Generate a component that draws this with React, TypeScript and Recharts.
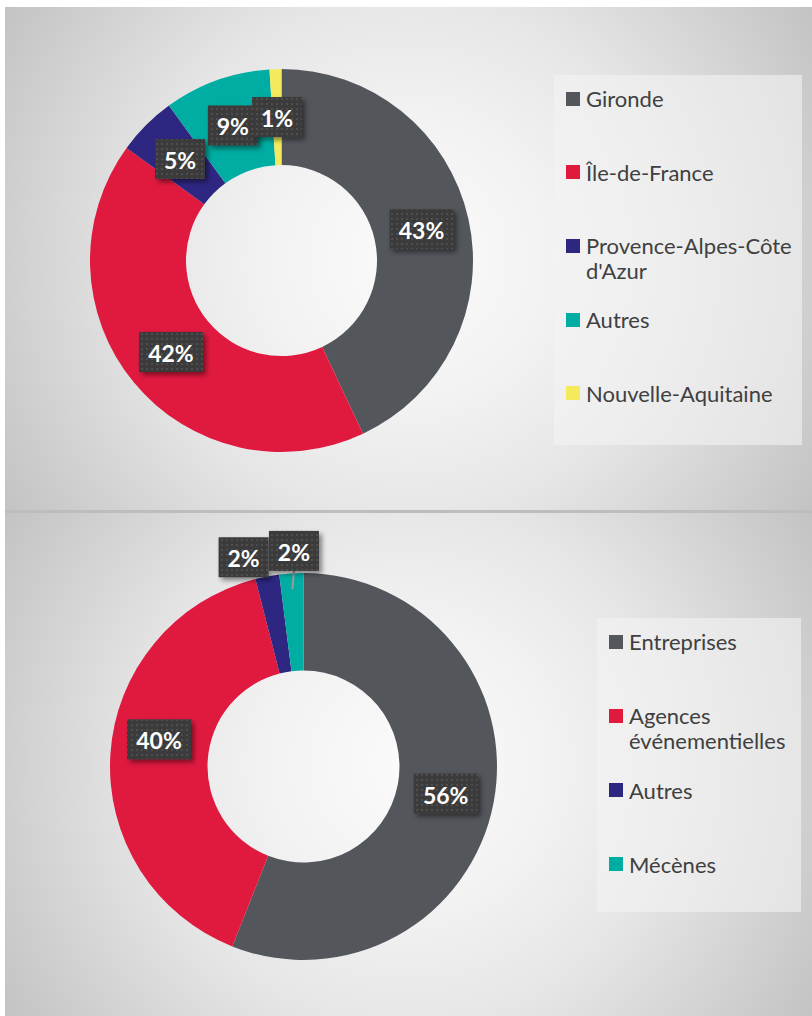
import React from 'react';
import { PieChart, Pie, Cell, Legend } from 'recharts';

const regionNames = ['Gironde', 'Île-de-France', "Provence-Alpes-Côte d'Azur", 'Autres', 'Nouvelle-Aquitaine'];
const regionValues = [43, 42, 5, 9, 1];
const regionColors = ['#53565b', '#e0193f', '#2e2782', '#00ada3', '#f4ea5b'];

const clientNames = ['Entreprises', 'Agences événementielles', 'Autres', 'Mécènes'];
const clientValues = [56, 40, 2, 2];
const clientColors = ['#53565b', '#e0193f', '#2e2782', '#00ada3'];

// label placement tweaks (style, not data)
const regionLabelShift: any[] = [{}, {}, {}, {}, {}];
const clientLabelShift: any[] = [{}, { dy: -18 }, { r: 213, dx: -20 }, { r: 216, dx: 4, line: true }];

const regionData = regionNames.map((name, i) => ({ name, value: regionValues[i] }));
const clientData = clientNames.map((name, i) => ({ name, value: clientValues[i] }));

const RAD = Math.PI / 180;
const FONT = 'Lato, "Open Sans", sans-serif';

function makeLabel(values: number[], shifts: any[]) {
  return (props: any) => {
    const { cx, cy, midAngle, innerRadius, outerRadius, index } = props;
    const s = shifts[index] || {};
    const r = s.r ?? (innerRadius + outerRadius) / 2;
    const x = cx + r * Math.cos(-midAngle * RAD) + (s.dx || 0);
    const y = cy + r * Math.sin(-midAngle * RAD) + (s.dy || 0);
    const text = `${values[index]}%`;
    const w = 22 + 14 * text.length;
    const h = 40;
    const lr = outerRadius - 16;
    const lx = cx + lr * Math.cos(-midAngle * RAD);
    const ly = cy + lr * Math.sin(-midAngle * RAD);
    return (
      <g key={`lbl-${index}`}>
        {s.line && <line x1={lx} y1={ly} x2={x} y2={y + h / 2} stroke="#9a9a9a" strokeWidth={2} />}
        <rect x={x - w / 2} y={y - h / 2} width={w} height={h} fill="#3a3a3a" filter="url(#lblShadow)" />
        <rect x={x - w / 2} y={y - h / 2} width={w} height={h} fill="url(#lblDots)" />
        <text
          x={x}
          y={y + 1}
          textAnchor="middle"
          dominantBaseline="central"
          fill="#ffffff"
          fontSize={23}
          fontWeight={700}
          fontFamily={FONT}
        >
          {text}
        </text>
      </g>
    );
  };
}

function LegendBox({ names, colors, width, height, spacing, textWidth }: any) {
  return (
    <div
      style={{
        position: 'relative',
        width,
        height,
        background: 'rgba(244,244,244,0.6)',
        fontFamily: FONT,
        fontSize: 22,
        color: '#404040',
        lineHeight: '25px',
      }}
    >
      {names.map((n: string, i: number) => (
        <div key={n} style={{ position: 'absolute', left: 12, top: 23.5 - 12.5 + i * spacing, display: 'flex' }}>
          <div style={{ width: 14, height: 14, background: colors[i], marginTop: 5.5, marginRight: 6, flex: 'none' }} />
          <div style={{ width: textWidth, whiteSpace: 'normal' }}>{n}</div>
        </div>
      ))}
    </div>
  );
}

const panelBg =
  'radial-gradient(circle farthest-corner at 50% 50%, #fbfbfb 0%, #f2f2f2 30%, #e6e6e6 55%, #c3c3c3 100%)';

export default function App() {
  return (
    <div style={{ position: 'absolute', left: 0, top: 0, width: 812, height: 1016, background: '#ffffff' }}>
      <svg width={0} height={0} style={{ position: 'absolute' }}>
        <defs>
          <pattern id="lblDots" width={5} height={5} patternUnits="userSpaceOnUse">
            <rect x={1} y={1} width={2} height={2} fill="#4e4e4e" />
          </pattern>
          <filter id="lblShadow" x="-30%" y="-30%" width="170%" height="180%">
            <feDropShadow dx={3} dy={3} stdDeviation={2.5} floodColor="#000" floodOpacity={0.45} />
          </filter>
        </defs>
      </svg>

      <div style={{ position: 'absolute', left: 5, top: 7, width: 807, height: 503, background: panelBg }}>
        <PieChart width={807} height={503} margin={{ top: 0, right: 0, bottom: 0, left: 0 }}>
          <Pie
            data={regionData}
            dataKey="value"
            nameKey="name"
            cx={276.5}
            cy={253.5}
            innerRadius={95.5}
            outerRadius={191.5}
            startAngle={90}
            endAngle={-270}
            stroke="none"
            isAnimationActive={false}
            labelLine={false}
            label={makeLabel(regionValues, regionLabelShift)}
          >
            {regionData.map((d, i) => (
              <Cell key={d.name} fill={regionColors[i]} />
            ))}
          </Pie>
          <Legend
            content={() => (
              <LegendBox names={regionNames} colors={regionColors} width={248} height={370} spacing={73.7} textWidth={214} />
            )}
            wrapperStyle={{ position: 'absolute', left: 549, top: 68, width: 248, height: 370 }}
          />
        </PieChart>
      </div>

      <div style={{ position: 'absolute', left: 5, top: 510, width: 807, height: 3, background: '#bdbdbd' }} />

      <div style={{ position: 'absolute', left: 5, top: 513, width: 807, height: 503, background: panelBg }}>
        <PieChart width={807} height={503} margin={{ top: 0, right: 0, bottom: 0, left: 0 }}>
          <Pie
            data={clientData}
            dataKey="value"
            nameKey="name"
            cx={298.5}
            cy={253.5}
            innerRadius={96}
            outerRadius={193.5}
            startAngle={90}
            endAngle={-270}
            stroke="none"
            isAnimationActive={false}
            labelLine={false}
            label={makeLabel(clientValues, clientLabelShift)}
          >
            {clientData.map((d, i) => (
              <Cell key={d.name} fill={clientColors[i]} />
            ))}
          </Pie>
          <Legend
            content={() => (
              <LegendBox names={clientNames} colors={clientColors} width={204} height={294} spacing={74.3} textWidth={168} />
            )}
            wrapperStyle={{ position: 'absolute', left: 592, top: 105, width: 204, height: 294 }}
          />
        </PieChart>
      </div>
    </div>
  );
}
